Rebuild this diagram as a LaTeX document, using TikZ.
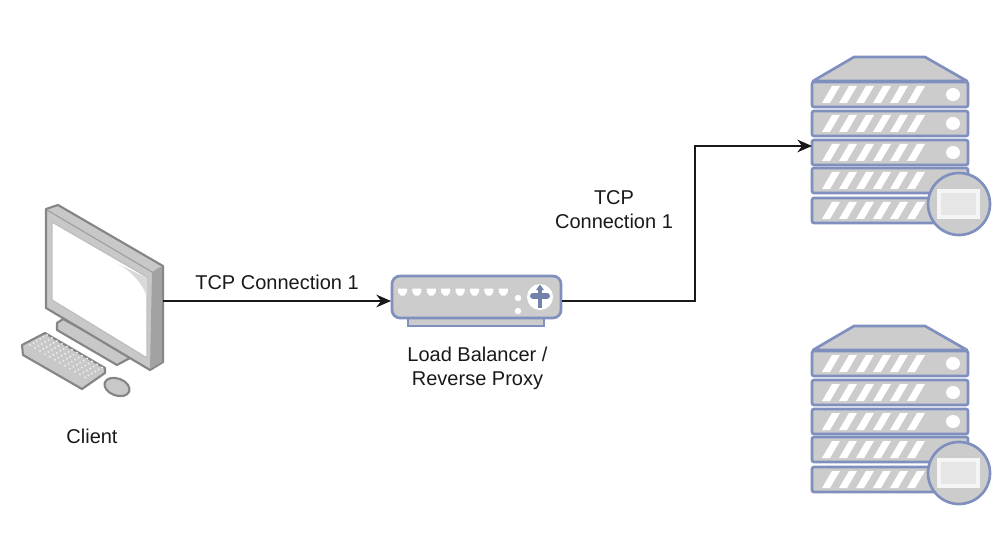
\documentclass[tikz,border=0pt]{standalone}
\usepackage{fontspec}
\setmainfont{Liberation Sans}
\usetikzlibrary{arrows.meta}
\definecolor{rackblue}{HTML}{7F90BE}
\definecolor{rackgray}{HTML}{CCCCCC}
\definecolor{pcedge}{HTML}{858585}
\definecolor{pcface}{HTML}{C8C8C8}
\definecolor{pcside}{HTML}{A2A2A2}
\tikzset{
	anchorbox/.style={inner sep=0pt,outer sep=0pt},
	caption/.style={font=\fontsize{15pt}{18pt}\selectfont,align=center,text=black!90,inner sep=0pt},
	link/.style={-{Stealth[length=11pt,width=9.5pt]},line width=1.05pt,black!90},
	rackpart/.style={draw=rackblue,fill=rackgray,line width=2pt,rounded corners=1.5pt},
	pcpart/.style={draw=pcedge,fill=pcface,line width=1.6pt,line join=round},
	pics/serverrack/.style={code={
		\path[rackpart,rounded corners=0pt,line join=round] (42,0)--(113,0)--(155,24)--(1,24)--cycle;
		\foreach \slot in {25,54,83,111,141}{
			\path[rackpart] (0,\slot) rectangle (156,\slot+25);
			\foreach \k in {0,...,5}{
				\fill[white] (10+17*\k,\slot+21)--(18+17*\k,\slot+21)--(28+17*\k,\slot+4)--(20+17*\k,\slot+4)--cycle;
			}
		}
		\foreach \slot in {25,54,83}{
			\fill[white] (141,\slot+12.5) ellipse (7 and 6.5);
		}
		\path[rackpart] (147,147) circle (31);
		\draw[white!92!gray,fill=rackgray!50!white,line width=2.4pt] (127,134) rectangle (166,160);
	}}
}
\begin{document}
\begin{tikzpicture}[x=0.75pt,y=-0.75pt]
\useasboundingbox (0,0) rectangle (1006,538);

% client
\path[pcpart] (57,323)--(63,319)--(130,355)--(130,358)--(117,365)--(57,330)--cycle;
\path[pcpart] (46,209)--(58,205)--(163,266)--(163,362)--(150,370)--(46,308)--cycle;
\path[fill=pcside] (152,272)--(162,266)--(162,362)--(150,369)--cycle;
\path[draw=pcedge!80!white,line width=0.8pt] (47,210)--(152,272);
\path[fill=white,draw=black!25,line width=1pt] (52,222)--(147,277)--(147,358)--(52,300)--cycle;
\fill[black!15] (118,264)--(147,278)--(147,297) .. controls (143,284) and (132,272) .. (118,264);
\path[pcpart] (22,345)--(45,333)--(105,368)--(105,373)--(82,389)--(23,355)--cycle;
\foreach \row in {0,...,5}{
	\foreach \col in {0,...,11}{
		\fill[white!85!gray] (30+\col*5+\row*3.4,345+\col*2.95-\row*2) circle (1.1);
	}
}
\path[pcpart] (117,387) ellipse [x radius=13,y radius=8.5,rotate=-20];
\node[caption](clientlabel) at (92,436){Client};

% load balancer
\path[rackpart,rounded corners=0pt] (408,318) rectangle (544,326);
\path[rackpart,rounded corners=6pt] (392,276) rectangle (561,318);
\foreach \k in {0,...,7}{
	\fill[white] (398+14.4*\k,288.5)--(407+14.4*\k,288.5)--(407+14.4*\k,292)--(404.5+14.4*\k,295.5)--(400.5+14.4*\k,295.5)--(398+14.4*\k,292)--cycle;
}
\fill[white] (518,298) circle (3.2) (518,311) circle (3.2);
\fill[white] (540,297) circle (13);
\draw[rackblue!90!black,line width=2.4pt] (540,288)--(540,308);
\draw[rackblue!90!black,line width=4.5pt,line cap=round] (533,296)--(547,296);
\fill[rackblue!90!black] (540,284.5)--(544,290)--(536,290)--cycle;
\node[caption](lblabel) at (477.5,368){Load Balancer /\\Reverse Proxy};

% servers
\pic at (812,57) {serverrack};
\pic at (812,326) {serverrack};

\node[anchorbox,minimum width=87.75pt,minimum height=60pt](client) at (104.5,301){};
\node[anchorbox,minimum width=128.25pt,minimum height=36pt](lb) at (476.5,301){};
\node[anchorbox,minimum width=117pt,minimum height=18pt](srva) at (890,146){};
\coordinate (turn) at (695,146);

\path (client) edge[link] node[caption,above,yshift=8pt]{TCP Connection 1} (lb);
\draw[link] (lb) -| (turn) -- (srva);
\node[caption](tcplabel) at (614,210){TCP\\Connection 1};

\end{tikzpicture}
\end{document}
